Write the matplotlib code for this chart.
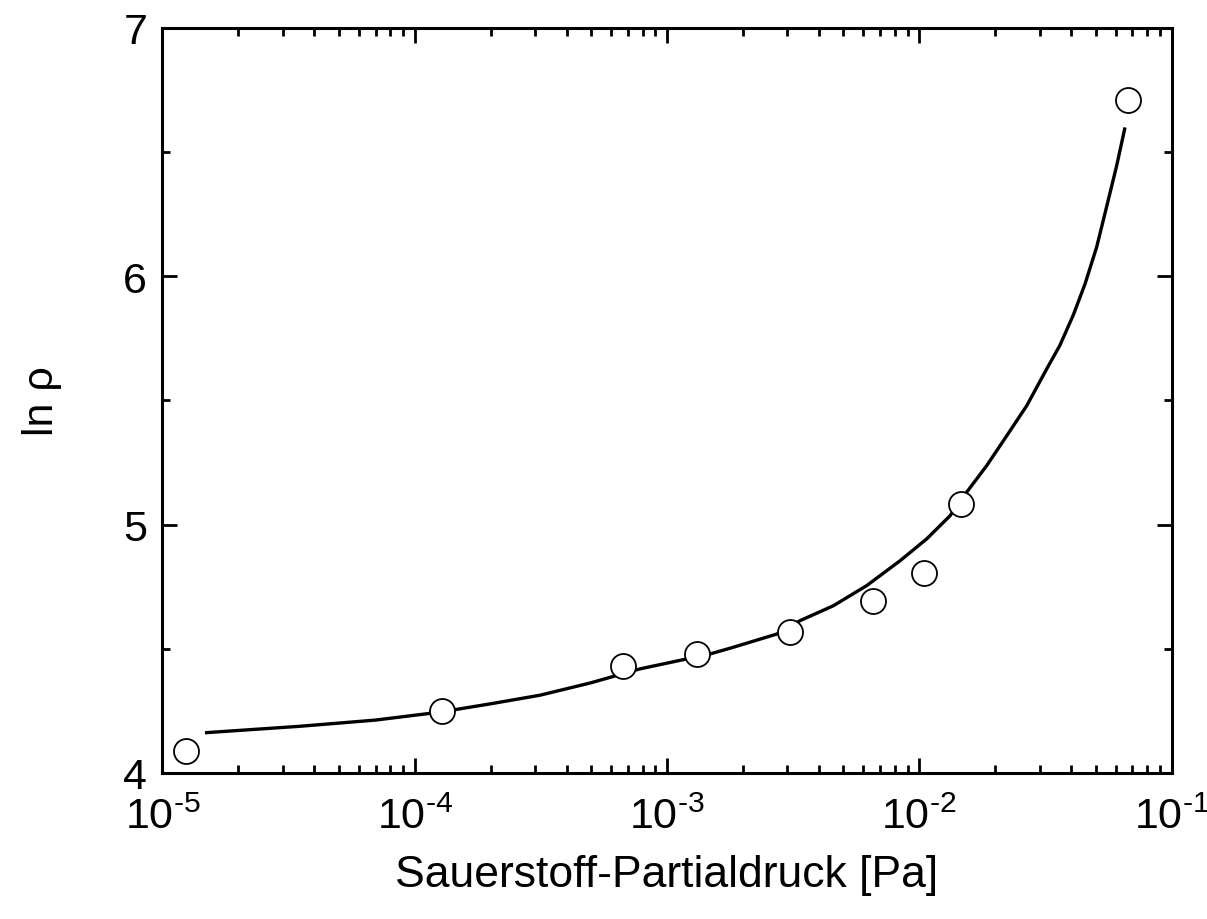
import math
import matplotlib
matplotlib.use("Agg")
import matplotlib.pyplot as plt
from matplotlib.ticker import LogLocator, FixedLocator, FuncFormatter, NullFormatter

plt.rcParams['font.family'] = ['Liberation Sans', 'DejaVu Sans']
plt.rcParams['mathtext.fontset'] = 'custom'
plt.rcParams['mathtext.rm'] = 'Liberation Sans'
plt.rcParams['mathtext.it'] = 'Liberation Sans:italic'

# measured data points
pressure = [1.24e-5, 1.28e-4, 6.67e-4, 1.32e-3, 3.08e-3, 6.56e-3, 1.047e-2, 1.46e-2, 6.70e-2]
ln_rho = [4.087, 4.250, 4.429, 4.478, 4.566, 4.692, 4.805, 5.083, 6.708]

# fitted curve
fit_p = [1.474e-5, 3.509e-5, 7.0e-5, 1.259e-4, 1.987e-4, 3.136e-4, 4.952e-4, 7.816e-4,
         1.481e-3, 1.832e-3, 2.722e-3, 3.368e-3, 4.564e-3, 6.188e-3, 8.389e-3,
         1.070e-2, 1.324e-2, 1.542e-2, 1.851e-2, 2.222e-2, 2.667e-2, 3.201e-2,
         3.614e-2, 4.080e-2, 4.541e-2, 5.051e-2, 5.534e-2, 6.062e-2, 6.541e-2]
fit_ln_rho = [4.162, 4.188, 4.213, 4.245, 4.278, 4.313, 4.362, 4.419,
              4.479, 4.506, 4.559, 4.613, 4.673, 4.754, 4.854,
              4.942, 5.035, 5.130, 5.237, 5.357, 5.478, 5.626,
              5.722, 5.843, 5.968, 6.117, 6.280, 6.444, 6.598]

x_label = "Sauerstoff-Partialdruck [Pa]"
y_label = "ln ρ"
y_ticks = [4, 5, 6, 7]
y_minor = [4.5, 5.5, 6.5]

fig = plt.figure(figsize=(12.07, 9.20), dpi=100)
ax = fig.add_axes([0.1346, 0.1587, 0.836, 0.8103])

ax.plot(fit_p, fit_ln_rho, color='black', lw=2.4, zorder=2,
        solid_joinstyle='round', solid_capstyle='butt')
ax.plot(pressure, ln_rho, linestyle='none', marker='o', markersize=18,
        markerfacecolor='white', markeredgecolor='black', markeredgewidth=1.3, zorder=3)

ax.set_xscale('log')
ax.set_xlim(1e-5, 1e-1)
ax.set_ylim(4, 7)

ax.xaxis.set_major_locator(LogLocator(base=10, numticks=10))
ax.xaxis.set_minor_locator(LogLocator(base=10, subs=range(2, 10), numticks=20))
ax.xaxis.set_minor_formatter(NullFormatter())

def fmt(v, pos):
    e = int(round(math.log10(v)))
    return r"$\mathregular{10^{\text{-}%d}}$" % abs(e) if e < 0 else r"$\mathregular{10^{%d}}$" % e
ax.xaxis.set_major_formatter(FuncFormatter(fmt))

ax.yaxis.set_major_locator(FixedLocator(y_ticks))
ax.yaxis.set_minor_locator(FixedLocator(y_minor))

for s in ax.spines.values():
    s.set_linewidth(2.2)

ax.tick_params(which='both', direction='in', top=True, right=True, width=2.0)
ax.tick_params(which='major', length=11, labelsize=31)
ax.tick_params(axis='x', which='major', pad=17)
ax.tick_params(axis='y', which='major', pad=11)
ax.tick_params(which='minor', length=6)

ax.set_xlabel(x_label, fontsize=32, labelpad=12)
ax.set_ylabel(y_label, fontsize=31, labelpad=44)

fig.savefig("out.png", dpi=100)
